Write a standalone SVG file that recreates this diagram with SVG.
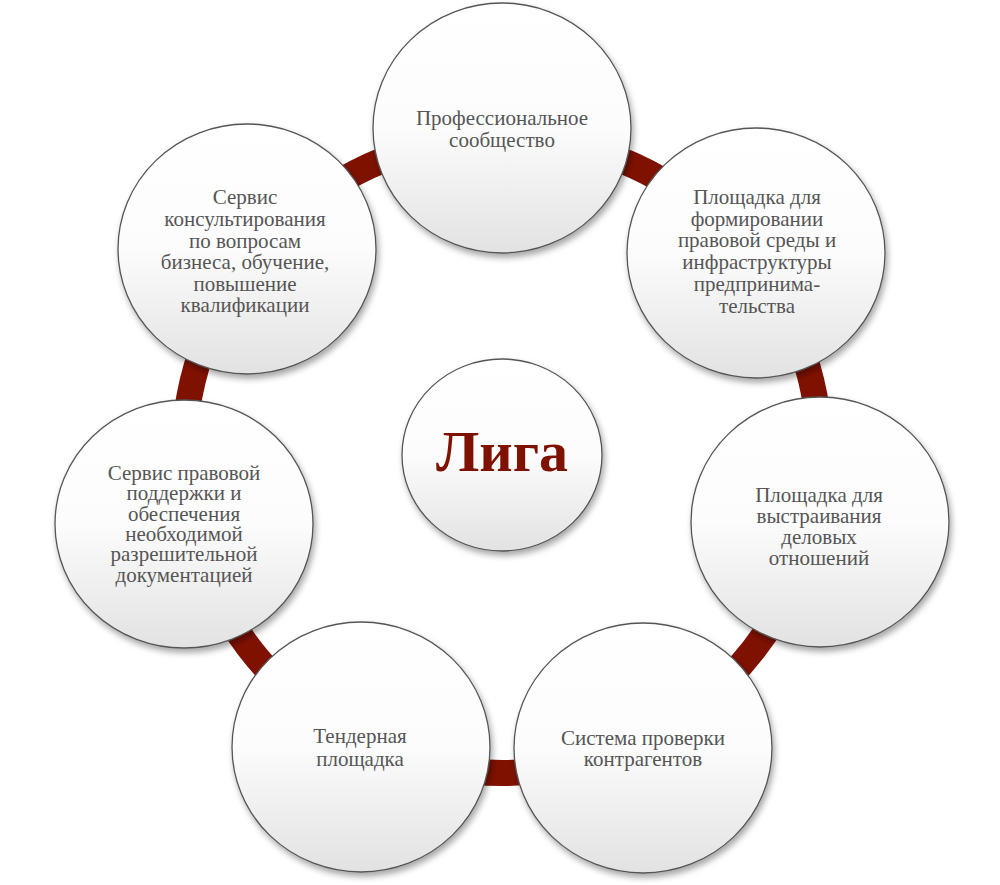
<svg xmlns="http://www.w3.org/2000/svg" width="1000" height="885" viewBox="0 0 1000 885">
  <defs>
    <linearGradient id="fillGrad" x1="0" y1="0" x2="0" y2="1">
      <stop offset="0" stop-color="#ffffff"/>
      <stop offset="0.5" stop-color="#fcfcfc"/>
      <stop offset="1" stop-color="#e2e2e2"/>
    </linearGradient>
    <filter id="shadow" x="-20%" y="-20%" width="140%" height="140%">
      <feDropShadow dx="2" dy="4" stdDeviation="3" flood-color="#000" flood-opacity="0.35"/>
    </filter>
    <style>
      .node { fill: url(#fillGrad); stroke: #555555; stroke-width: 1.3; filter: url(#shadow); }
      .label { font-family: "Liberation Serif", "Times New Roman", serif; font-size: 21px; fill: #555555; text-anchor: middle; }
      .title { font-family: "Liberation Serif", "Times New Roman", serif; font-size: 58px; font-weight: bold; fill: #7f1100; text-anchor: middle; }
      .ring { fill: none; stroke: #7f1100; stroke-width: 26; }
    </style>
  </defs>
  <rect width="1000" height="885" fill="#ffffff"/>

  <g id="connectors">
    <circle class="ring" cx="502" cy="455" r="318"/>
  </g>

  <g id="node-center">
    <ellipse class="node" cx="502" cy="455" rx="100" ry="96"/>
    <text class="title" x="502" y="471">Лига</text>
  </g>

  <g id="node-top">
    <ellipse class="node" cx="502" cy="128" rx="129" ry="125"/>
    <text class="label" x="502" y="125">Профессиональное</text>
    <text class="label" x="502" y="147">сообщество</text>
  </g>

  <g id="node-top-right">
    <ellipse class="node" cx="756" cy="253" rx="129" ry="125"/>
    <text class="label" x="757" y="204">Площадка для</text>
    <text class="label" x="757" y="226">формировании</text>
    <text class="label" x="757" y="247">правовой среды и</text>
    <text class="label" x="757" y="269">инфраструктуры</text>
    <text class="label" x="757" y="291">предпринима-</text>
    <text class="label" x="757" y="313">тельства</text>
  </g>

  <g id="node-right">
    <ellipse class="node" cx="820" cy="522" rx="129" ry="125"/>
    <text class="label" x="819" y="502">Площадка для</text>
    <text class="label" x="819" y="523">выстраивания</text>
    <text class="label" x="819" y="544">деловых</text>
    <text class="label" x="819" y="565">отношений</text>
  </g>

  <g id="node-bottom-right">
    <ellipse class="node" cx="643" cy="748" rx="129" ry="125"/>
    <text class="label" x="643" y="745">Система проверки</text>
    <text class="label" x="643" y="766">контрагентов</text>
  </g>

  <g id="node-bottom-left">
    <ellipse class="node" cx="361" cy="747" rx="129" ry="125"/>
    <text class="label" x="360" y="743">Тендерная</text>
    <text class="label" x="360" y="766">площадка</text>
  </g>

  <g id="node-left">
    <ellipse class="node" cx="184" cy="524" rx="129" ry="124"/>
    <text class="label" x="184" y="480">Сервис правовой</text>
    <text class="label" x="184" y="500">поддержки и</text>
    <text class="label" x="184" y="521">обеспечения</text>
    <text class="label" x="184" y="541">необходимой</text>
    <text class="label" x="184" y="561">разрешительной</text>
    <text class="label" x="184" y="582">документацией</text>
  </g>

  <g id="node-top-left">
    <ellipse class="node" cx="247" cy="249" rx="129" ry="125"/>
    <text class="label" x="245" y="204">Сервис</text>
    <text class="label" x="245" y="226">консультирования</text>
    <text class="label" x="245" y="248">по вопросам</text>
    <text class="label" x="245" y="269">бизнеса, обучение,</text>
    <text class="label" x="245" y="291">повышение</text>
    <text class="label" x="245" y="312">квалификации</text>
  </g>
</svg>
